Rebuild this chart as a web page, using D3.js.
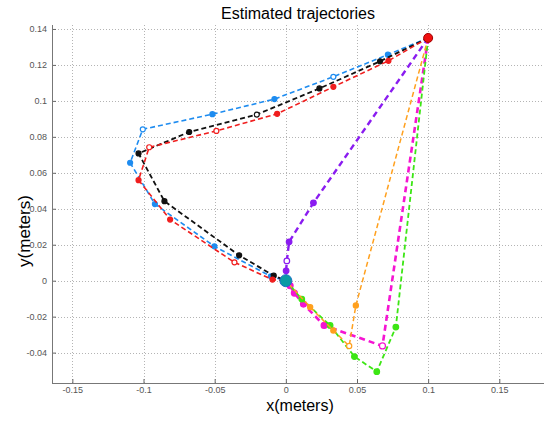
<!DOCTYPE html>
<html><head><meta charset="utf-8">
<script src="https://cdn.jsdelivr.net/npm/d3@7"></script>
<style>
html,body{margin:0;padding:0;background:#fff;overflow:hidden;}
svg{display:block;}
text{font-family:"Liberation Sans",Arial,sans-serif;}
</style></head>
<body><svg id="chart" width="544" height="421"></svg>
<script>
// ---- data ----
const title = "Estimated trajectories";
const xLabel = "x(meters)";
const yLabel = "y(meters)";
const xTicks = [-0.15, -0.1, -0.05, 0, 0.05, 0.1, 0.15];
const xTickLabels = ["-0.15", "-0.1", "-0.05", "0", "0.05", "0.1", "0.15"];
const yTicks = [0.14, 0.12, 0.1, 0.08, 0.06, 0.04, 0.02, 0, -0.02, -0.04];
const yTickLabels = ["0.14", "0.12", "0.1", "0.08", "0.06", "0.04", "0.02", "0", "-0.02", "-0.04"];
const startPoint = [0.1, 0.135];
const endPoint = [0, 0];

const seriesNames = ["blue", "black", "red", "purple", "magenta", "green", "orange"];
const blueX  = [0.1, 0.0717, 0.0334, -0.008, -0.0516, -0.1005, -0.1094, -0.092, -0.0502, -0.0105, 0];
const blueY  = [0.135, 0.1257, 0.1134, 0.101, 0.0926, 0.0842, 0.0656, 0.0426, 0.0191, 0.0024, 0];
const blackX = [0.1, 0.0662, 0.0236, -0.0204, -0.0679, -0.1035, -0.0853, -0.0328, -0.0085, 0];
const blackY = [0.135, 0.122, 0.1069, 0.0924, 0.0827, 0.0708, 0.0442, 0.0141, 0.0028, 0];
const redX   = [0.1, 0.0721, 0.0334, -0.0061, -0.0488, -0.096, -0.1035, -0.0813, -0.0361, -0.0094, 0];
const redY   = [0.135, 0.1223, 0.1078, 0.0928, 0.0833, 0.0742, 0.0559, 0.034, 0.0102, 0.0006, 0];
const purpleX = [0.1, 0.0194, 0.0023, 0.0007, 0.0002, 0];
const purpleY = [0.135, 0.0433, 0.0216, 0.011, 0.0055, 0];
const magentaX = [0.1, 0.0679, 0.0269, 0.0124, 0.006, 0.003, 0];
const magentaY = [0.135, -0.0363, -0.0249, -0.013, -0.0069, -0.0028, 0];
const greenX = [0.1, 0.0773, 0.0639, 0.0482, 0.0311, 0.0112, 0];
const greenY = [0.135, -0.0258, -0.0506, -0.0422, -0.0249, -0.0102, 0];
const orangeX = [0.1, 0.0492, 0.0445, 0.0334, 0.0171, 0];
const orangeY = [0.135, -0.0138, -0.0363, -0.0277, -0.0147, 0];

// ---- styles ----
const styles = {
  blue:    {color:"#1e8cf0", width:1.6, dash:"5,3", r:2.5, open:[2,5]},
  black:   {color:"#111111", width:1.8, dash:"5,3", r:2.5, open:[3]},
  red:     {color:"#f01e1e", width:1.6, dash:"5,3", r:2.5, open:[5,4,8]},
  purple:  {color:"#8a1cf0", width:2.4, dash:"6,4", r:2.8, open:[3]},
  magenta: {color:"#f514d2", width:2.6, dash:"6,4", r:3, open:[1]},
  green:   {color:"#3ce614", width:1.8, dash:"5,3", r:2.8, open:[]},
  orange:  {color:"#ffa01e", width:1.5, dash:"5,3", r:2.6, open:[2]}
};
const seriesData = {
  blue: [blueX, blueY], black: [blackX, blackY], red: [redX, redY],
  purple: [purpleX, purpleY], magenta: [magentaX, magentaY],
  green: [greenX, greenY], orange: [orangeX, orangeY]
};

// ---- layout ----
const svg = d3.select("#chart");
const pL = 52, pR = 544, pT = 25, pB = 383;
const x = d3.scaleLinear().domain([-0.1643, 0.1814]).range([pL, pR]);
const y = d3.scaleLinear().domain([-0.0569, 0.1422]).range([pB, pT]);

svg.append("defs").append("clipPath").attr("id","clip")
  .append("rect").attr("x",pL).attr("y",pT).attr("width",pR-pL).attr("height",pB-pT);

// grid
const grid = svg.append("g");
grid.selectAll(null).data(xTicks).enter().append("line")
  .attr("x1",d=>Math.round(x(d))+0.5).attr("x2",d=>Math.round(x(d))+0.5).attr("y1",pT).attr("y2",pB)
  .attr("stroke","#b4b4b4").attr("stroke-width",1).attr("stroke-dasharray","1,2");
grid.selectAll(null).data(yTicks).enter().append("line")
  .attr("x1",pL).attr("x2",pR).attr("y1",d=>Math.round(y(d))+0.5).attr("y2",d=>Math.round(y(d))+0.5)
  .attr("stroke","#b4b4b4").attr("stroke-width",1).attr("stroke-dasharray","1,2");

// axes
const xAxis = d3.axisBottom(x).tickValues(xTicks).tickSize(-4)
  .tickFormat((d,i)=>xTickLabels[i]);
const yAxis = d3.axisLeft(y).tickValues(yTicks).tickSize(-4)
  .tickFormat((d,i)=>yTickLabels[i]);
const gx = svg.append("g").attr("transform",`translate(0,${pB})`).call(xAxis);
const gy = svg.append("g").attr("transform",`translate(${pL},0)`).call(yAxis);
[gx, gy].forEach(g=>{
  g.select(".domain").remove();
  g.selectAll(".tick line").attr("stroke","#666");
  g.selectAll(".tick text").attr("fill","#555").style("font-size","9px")
    .style("font-family","'Liberation Sans',Arial,sans-serif");
});
gx.selectAll(".tick text").attr("y",4);
gy.selectAll(".tick text").attr("x",-5);
svg.append("line").attr("x1",pL).attr("x2",pR).attr("y1",pB+0.5).attr("y2",pB+0.5)
  .attr("stroke","#777").attr("stroke-width",1);
svg.append("line").attr("x1",pL+0.5).attr("x2",pL+0.5).attr("y1",pT).attr("y2",pB)
  .attr("stroke","#777").attr("stroke-width",1);

// series
const plot = svg.append("g").attr("clip-path","url(#clip)");
const line = d3.line().x(d=>x(d[0])).y(d=>y(d[1]));
seriesNames.forEach(name=>{
  const [xs, ys] = seriesData[name];
  const pts = xs.map((v,i)=>[v, ys[i]]);
  const st = styles[name];
  plot.append("path").datum(pts).attr("d",line).attr("fill","none")
    .attr("stroke",st.color).attr("stroke-width",st.width).attr("stroke-dasharray",st.dash);
  plot.selectAll(null).data(pts.slice(1, pts.length-1)).enter().append("circle")
    .attr("cx",d=>x(d[0])).attr("cy",d=>y(d[1])).attr("r",st.r)
    .attr("fill",(d,i)=>st.open.includes(i+1) ? "#fff" : st.color)
    .attr("stroke",st.color).attr("stroke-width",1.2);
});

// start / end markers
plot.append("circle").attr("cx",x(endPoint[0])).attr("cy",y(endPoint[1])).attr("r",6)
  .attr("fill","#0a9aa5").attr("stroke","#1e6ec8").attr("stroke-width",1);
plot.append("circle").attr("cx",x(startPoint[0])).attr("cy",y(startPoint[1])).attr("r",4.5)
  .attr("fill","#f01010").attr("stroke","#a00000").attr("stroke-width",1);

// labels
svg.append("text").attr("x",298).attr("y",19).attr("text-anchor","middle")
  .style("font-size","16px").attr("fill","#000").text(title);
svg.append("text").attr("x",300).attr("y",411).attr("text-anchor","middle")
  .style("font-size","16px").attr("fill","#000").text(xLabel);
svg.append("text").attr("transform","translate(30,231) rotate(-90)").attr("text-anchor","middle")
  .style("font-size","17px").attr("fill","#000").text(yLabel);
</script></body></html>
